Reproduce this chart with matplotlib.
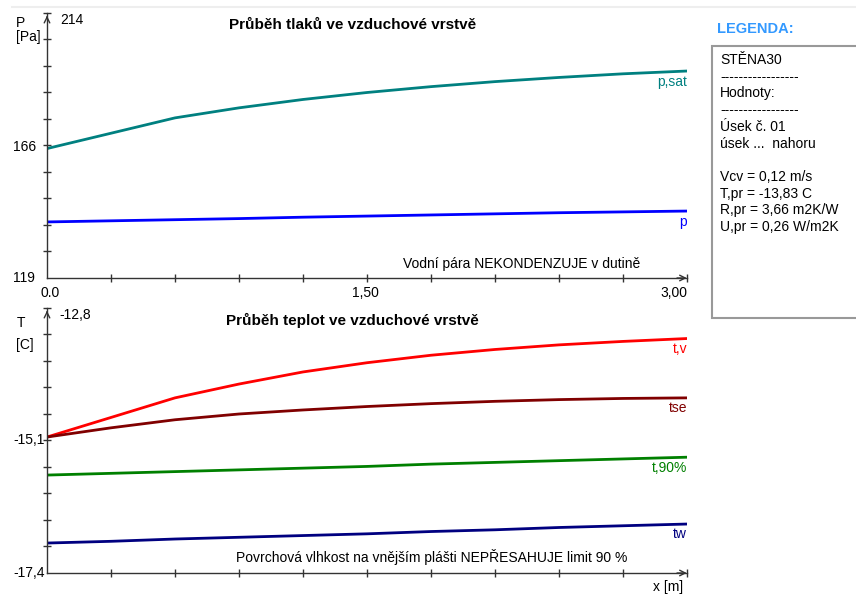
import numpy as np
import matplotlib.pyplot as plt
from matplotlib.patches import Rectangle

plt.rcParams['font.family'] = ['Liberation Sans', 'DejaVu Sans']

# horni graf - tlaky [Pa]
x_p = [0.0, 0.3, 0.6, 0.9, 1.2, 1.5, 1.8, 2.1, 2.4, 2.7, 3.0]
p_sat = [165.4, 170.9, 176.4, 180.0, 183.0, 185.5, 187.6, 189.4, 190.9, 192.2, 193.2]
p = [139.1, 139.5, 139.9, 140.3, 140.8, 141.2, 141.6, 142.0, 142.4, 142.7, 143.0]

# dolni graf - teploty [C]
x_t = [0.0, 0.3, 0.6, 0.9, 1.2, 1.5, 1.8, 2.1, 2.4, 2.7, 3.0]
t_v = [-15.04, -14.70, -14.36, -14.12, -13.91, -13.75, -13.62, -13.52, -13.44, -13.38, -13.33]
t_se = [-15.04, -14.88, -14.74, -14.64, -14.57, -14.51, -14.46, -14.42, -14.39, -14.37, -14.36]
t_90 = [-15.70, -15.67, -15.64, -15.61, -15.58, -15.55, -15.51, -15.48, -15.45, -15.42, -15.39]
t_w = [-16.88, -16.85, -16.81, -16.78, -16.75, -16.72, -16.68, -16.65, -16.61, -16.58, -16.55]

p_lim = (119, 214)
t_lim = (-17.4, -12.8)

legenda = ["STĚNA30", "-----------------", "Hodnoty:", "-----------------",
           "Úsek č. 01", "úsek ...  nahoru", "",
           "Vcv = 0,12 m/s", "T,pr = -13,83 C", "R,pr = 3,66 m2K/W", "U,pr = 0,26 W/m2K"]

W, H = 856, 596
FS = 10
fig = plt.figure(figsize=(W / 100, H / 100), dpi=100)


def box(px_left, px_top, px_w, px_h):
    return [px_left / W, 1 - (px_top + px_h) / H, px_w / W, px_h / H]


def fy(px):
    # pixel od horni hrany osy -> zlomek osy (vyska 265 px)
    return 1 - px / 265


def setup(ax, lim, labels, units, title):
    ax.set_xlim(0, 3.0)
    ax.set_ylim(*lim)
    for s in ('top', 'right'):
        ax.spines[s].set_visible(False)
    for s in ('left', 'bottom'):
        ax.spines[s].set_color('#333333')
        ax.spines[s].set_linewidth(1.0)
    ax.set_xticks(np.arange(0.3, 3.01, 0.3))
    ax.set_yticks(np.linspace(lim[0], lim[1], 11)[1:])
    ax.set_xticklabels([])
    ax.set_yticklabels([])
    ax.tick_params(direction='inout', length=6, width=1, color='#333333')
    # sipky na koncich os
    ax.annotate('', xy=(0, 1.0), xytext=(0, 0.97), xycoords='axes fraction',
                arrowprops=dict(arrowstyle='->', color='#333333', lw=1))
    ax.annotate('', xy=(1.004, 0), xytext=(0.98, 0), xycoords='axes fraction',
                arrowprops=dict(arrowstyle='->', color='#333333', lw=1))
    for txt, px in labels:
        ax.text(-0.053, fy(px), txt, transform=ax.transAxes, fontsize=FS, va='center')
    for txt, px in units:
        ax.text(-0.048, fy(px), txt, transform=ax.transAxes, fontsize=FS, va='center')
    ax.text(0.477, fy(px=12), title, transform=ax.transAxes, fontsize=11,
            fontweight='bold', ha='center', va='center')


ax1 = fig.add_axes(box(47, 13, 640, 265))
setup(ax1, p_lim, [('166', 134), ('119', 265)], [('P', 10), ('[Pa]', 24)],
      'Průběh tlaků ve vzduchové vrstvě')
ax1.text(0.02, fy(7), '214', transform=ax1.transAxes, fontsize=FS, va='center')
ax1.plot(x_p, p_sat, color='#008080', lw=2)
ax1.plot(x_p, p, color='#0000ff', lw=2)
ax1.text(3.0, p_sat[-1] - 1.5, 'p,sat', color='#008080', ha='right', va='top', fontsize=FS)
ax1.text(3.0, p[-1] - 1.5, 'p', color='#0000ff', ha='right', va='top', fontsize=FS)
ax1.text(2.78, 124.0, 'Vodní pára NEKONDENZUJE v dutině', ha='right', va='center', fontsize=FS)
ax1.text(-0.01, fy(280), '0.0', transform=ax1.transAxes, ha='left', va='center', fontsize=FS)
ax1.text(0.497, fy(280), '1,50', transform=ax1.transAxes, ha='center', va='center', fontsize=FS)
ax1.text(1.0, fy(280), '3,00', transform=ax1.transAxes, ha='right', va='center', fontsize=FS)

ax2 = fig.add_axes(box(47, 308, 640, 265))
setup(ax2, t_lim, [('-15,1', 132), ('-17,4', 265)], [('T', 15), ('[C]', 37)],
      'Průběh teplot ve vzduchové vrstvě')
ax2.text(0.02, fy(7), '-12,8', transform=ax2.transAxes, fontsize=FS, va='center')
ax2.plot(x_t, t_v, color='#ff0000', lw=2)
ax2.plot(x_t, t_se, color='#800000', lw=2)
ax2.plot(x_t, t_90, color='#008000', lw=2)
ax2.plot(x_t, t_w, color='#000080', lw=2)
for vals, name, c in [(t_v, 't,v', '#ff0000'), (t_se, 'tse', '#800000'),
                      (t_90, 't,90%', '#008000'), (t_w, 'tw', '#000080')]:
    ax2.text(3.0, vals[-1] - 0.06, name, color=c, ha='right', va='top', fontsize=FS)
ax2.text(2.72, -17.12, 'Povrchová vlhkost na vnějším plášti NEPŘESAHUJE limit 90 %',
         ha='right', va='center', fontsize=FS)
ax2.text(0.994, fy(279), 'x [m]', transform=ax2.transAxes, ha='right', va='center', fontsize=FS)

# horni seda linka
fig.add_artist(plt.Line2D([12 / W, 1], [1 - 7 / H, 1 - 7 / H], color='#eeeeee', lw=1.5))

# legenda
fig.text(717 / W, 1 - 29 / H, 'LEGENDA:', color='#3399ff', fontsize=10.5, fontweight='bold',
         va='center')
fig.add_artist(Rectangle((712 / W, 1 - 318 / H), 150 / W, 272 / H, transform=fig.transFigure,
                         facecolor='white', edgecolor='#999999', lw=1.5))
for i, line in enumerate(legenda):
    fig.text(720 / W, 1 - (60 + i * 16.7) / H, line, fontsize=FS, va='center')

fig.savefig('out.png', dpi=100)
